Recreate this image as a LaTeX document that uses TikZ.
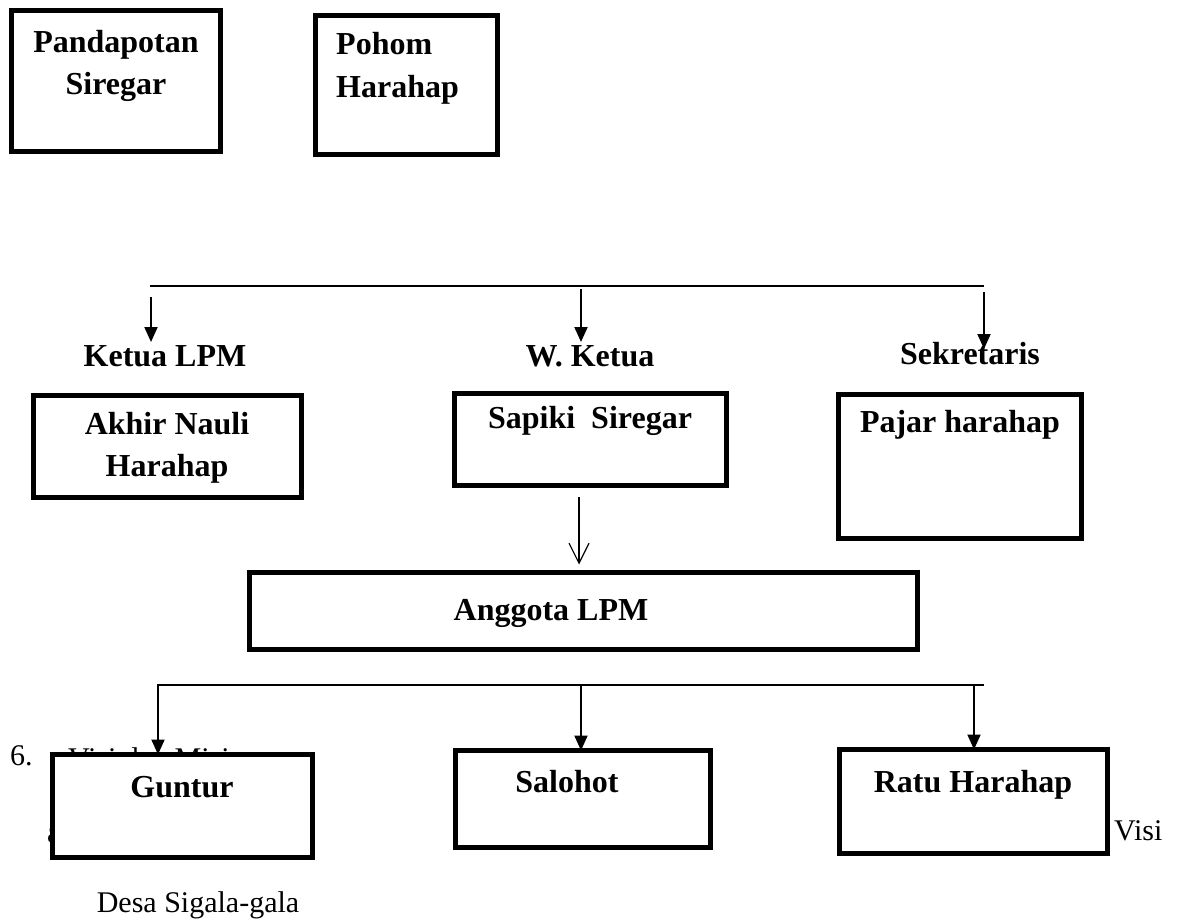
\documentclass[tikz,border=0pt]{standalone}
\usepackage{fontspec}
\setmainfont{Liberation Serif}
\usetikzlibrary{arrows.meta}
\begin{document}
\begin{tikzpicture}[x=1pt,y=-1pt,
  box/.style={draw,line width=5pt,fill=white,inner sep=0pt,outer sep=0pt},
  btxt/.style={anchor=base,inner sep=0pt,font=\fontsize{32}{38}\selectfont\bfseries},
  rtxt/.style={anchor=base west,inner sep=0pt,font=\fontsize{30}{36}\selectfont},
  bus/.style={line width=2pt},
  fat/.style={line width=2pt,-{Triangle[length=15pt,width=13pt]}},
  thin/.style={line width=1.2pt,-{Straight Barb[length=20pt,width=20pt]}}]
\useasboundingbox (0,0) rectangle (1178,923);
% text partly hidden behind the boxes
\node[rtxt] (six) at (10,765) {6.};
\node[rtxt] (visimisi) at (68,768) {Visi dan Misi};
\node[rtxt] (aa) at (47,842) {a.};
\node[rtxt] (visi) at (1114,840) {Visi};
\node[rtxt,anchor=base] (desa) at (198,912) {Desa Sigala-gala};
% top boxes
\node[box,minimum width=209pt,minimum height=141pt] (pand) at (116,81) {};
\node[btxt] (pand1) at (116,53) {Pandapotan};
\node[btxt] (pand2) at (116,95) {Siregar};
\node[box,minimum width=182pt,minimum height=139pt] (pohom) at (406.5,85) {};
\node[btxt,anchor=base west] (pohom1) at (336,55) {Pohom};
\node[btxt,anchor=base west] (pohom2) at (336,98) {Harahap};
% row 1
\coordinate (busL) at (150,286);
\coordinate (busR) at (984,286);
\draw[bus] (busL) -- (busR);
\node[btxt] (lketua) at (165,366) {Ketua LPM};
\node[btxt] (lwketua) at (590,366) {W. Ketua};
\node[btxt] (lsek) at (970,364) {Sekretaris};
\coordinate (a1) at (151,297);
\coordinate (a2) at (581,289);
\coordinate (a3) at (984,292);
\coordinate (a1e) at (151,342);
\coordinate (a2e) at (581,342);
\coordinate (a3e) at (984,349);
\draw[fat] (a1) -- (a1e);
\draw[fat] (a2) -- (a2e);
\draw[fat] (a3) -- (a3e);
\node[box,minimum width=268pt,minimum height=102pt] (akhir) at (167.5,446.5) {};
\node[btxt] (akhir1) at (167,434) {Akhir Nauli};
\node[btxt] (akhir2) at (167,476) {Harahap};
\node[box,minimum width=272pt,minimum height=92pt] (sapiki) at (590.5,439) {};
\node[btxt] (sapiki1) at (590,428) {Sapiki\ \ Siregar};
\node[box,minimum width=243pt,minimum height=144pt] (pajar) at (960,466.5) {};
\node[btxt] (pajar1) at (960,432) {Pajar harahap};
% Anggota
\node[box,minimum width=668pt,minimum height=77pt] (anggota) at (583.5,611) {};
\node[btxt] (anggota1) at (551,620) {Anggota LPM};
\coordinate (t1) at (579,497);
\draw[thin] (t1) -- ([yshift=8pt]t1 |- anggota.north);
% row 2
\coordinate (bL) at (157,685);
\coordinate (bR) at (984,685);
\draw[bus] (bL) -- (bR);
\node[box,minimum width=260pt,minimum height=103pt] (guntur) at (182.5,806) {};
\node[btxt] (guntur1) at (182,797) {Guntur};
\node[box,minimum width=255pt,minimum height=97pt] (salohot) at (583,799) {};
\node[btxt] (salohot1) at (567,792) {Salohot};
\node[box,minimum width=268pt,minimum height=104pt] (ratu) at (973.5,801.5) {};
\node[btxt] (ratu1) at (973,792) {Ratu Harahap};
\coordinate (b1) at (158,685);
\coordinate (b2) at (581,685);
\coordinate (b3) at (974,685);
\draw[fat] (b1) -- (b1 |- guntur.north);
\draw[fat] (b2) -- (b2 |- salohot.north);
\draw[fat] (b3) -- (b3 |- ratu.north);
\end{tikzpicture}
\end{document}
